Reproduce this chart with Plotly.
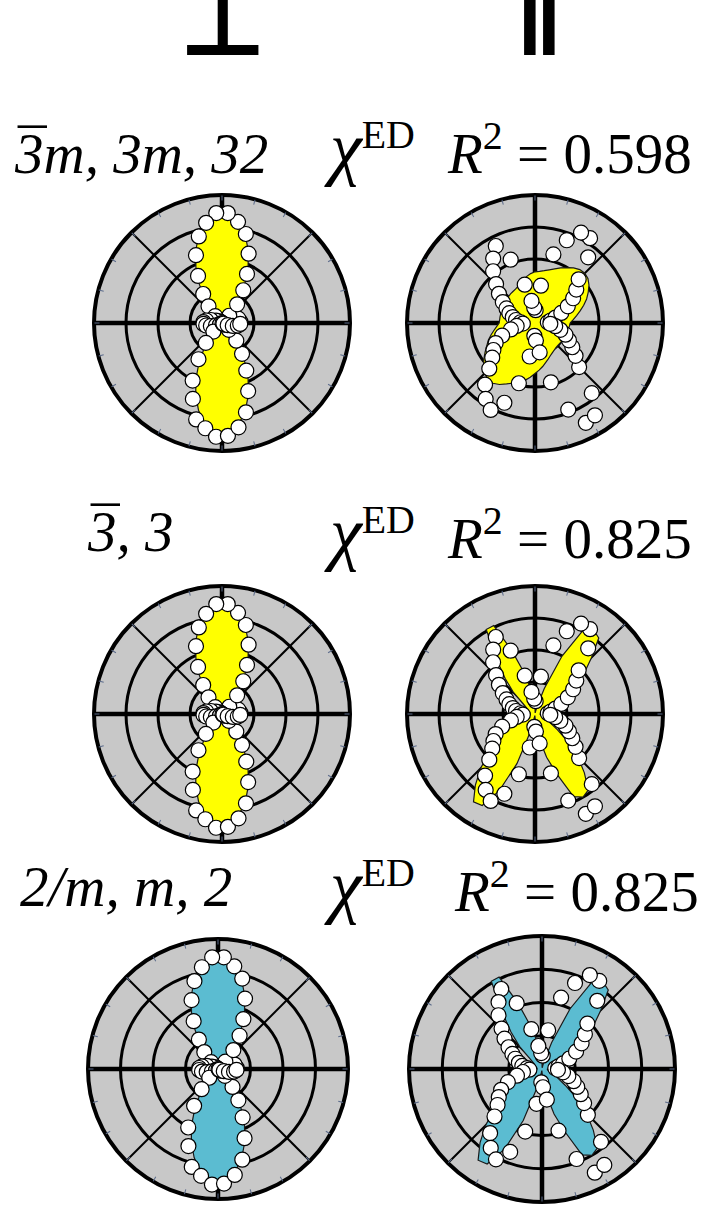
import plotly.graph_objects as go

W, H = 713, 1210
R_MAX = 4

# Measurement angles (deg) and fit-curve sampling angles (deg)
DATA_ANGLES = list(range(3, 360, 6))
FIT_ANGLES = list(range(0, 360, 5))

# Perpendicular-polarisation SHG intensity (same measurement in every row)
perp_data = [
    0.58, 0.50, 0.53, 0.20, 0.07, 0.02, 0.10, 0.32, 0.75, 1.22, 1.72, 2.32, 2.88, 3.20, 3.44,
    3.44, 3.17, 2.80, 2.27, 1.65, 1.08, 0.67, 0.30, 0.08, 0.02, 0.06, 0.20, 0.36, 0.50, 0.58,
    0.58, 0.50, 0.36, 0.20, 0.06, 0.02, 0.08, 0.38, 0.80, 1.35, 2.02, 2.54, 3.12, 3.33, 3.56,
    3.53, 3.30, 2.89, 2.28, 1.67, 1.15, 0.71, 0.30, 0.08, 0.02, 0.05, 0.19, 0.35, 0.50, 0.57,
]

# Parallel-polarisation SHG intensity (same measurement in every row)
par_data = [
    0.40, 0.50, 0.66, 0.88, 1.15, 1.42, 1.66, 1.93, 2.64, 3.16, 3.17, 2.77, 2.22, 1.18, 0.40,
    0.48, 0.70, 1.24, 2.12, 2.70, 2.40, 2.08, 1.72, 1.45, 1.20, 1.00, 0.86, 0.72, 0.60, 0.45,
    0.38, 0.58, 0.78, 1.10, 1.38, 1.55, 1.72, 2.02, 2.48, 2.83, 3.05, 2.67, 1.95, 1.06, 0.40,
    0.55, 0.93, 1.92, 2.90, 3.50, 3.44, 2.82, 1.95, 1.63, 1.39, 1.19, 1.02, 0.82, 0.64, 0.48,
]

# chi^ED model fits
perp_fit = [
    0.59, 0.56, 0.48, 0.35, 0.22, 0.09, 0.02, 0.01, 0.10, 0.29, 0.59, 0.98, 1.44, 1.93, 2.40, 2.83, 3.16, 3.38,
    3.45, 3.38, 3.16, 2.83, 2.40, 1.93, 1.44, 0.98, 0.59, 0.29, 0.10, 0.01, 0.02, 0.09, 0.22, 0.35, 0.48, 0.56,
    0.59, 0.56, 0.48, 0.35, 0.22, 0.09, 0.02, 0.01, 0.10, 0.29, 0.59, 0.98, 1.44, 1.93, 2.40, 2.83, 3.16, 3.38,
    3.45, 3.38, 3.16, 2.83, 2.40, 1.93, 1.44, 0.98, 0.59, 0.29, 0.10, 0.01, 0.02, 0.09, 0.22, 0.35, 0.48, 0.56,
]

par_fit_3m = [
    1.10, 1.20, 1.32, 1.46, 1.62, 1.78, 1.92, 2.06, 2.16, 2.20, 2.18, 2.10, 2.00, 1.90, 1.80, 1.72, 1.66, 1.62,
    1.60, 1.55, 1.48, 1.40, 1.32, 1.26, 1.22, 1.20, 1.19, 1.17, 1.15, 1.14, 1.13, 1.12, 1.11, 1.11, 1.11, 1.11,
    1.12, 1.20, 1.30, 1.42, 1.55, 1.66, 1.80, 1.95, 2.10, 2.22, 2.30, 2.30, 2.22, 2.10, 2.00, 1.93, 1.82, 1.70,
    1.58, 1.48, 1.38, 1.28, 1.20, 1.13, 1.08, 1.04, 1.01, 1.00, 1.00, 1.01, 1.02, 1.03, 1.04, 1.05, 1.06, 1.08,
]

par_fit_3 = [
    0.15, 0.25, 0.40, 0.58, 0.76, 1.02, 1.35, 1.62, 2.02, 2.50, 3.10, 3.20, 3.05, 2.00, 0.85, 0.25, 0.05, 0.05,
    0.20, 0.45, 0.85, 1.35, 2.10, 3.05, 3.05, 2.10, 1.45, 0.95, 0.45, 0.30, 0.25, 0.22, 0.20, 0.18, 0.16, 0.15,
    0.15, 0.22, 0.32, 0.45, 0.60, 0.75, 1.12, 1.50, 1.88, 2.40, 2.90, 3.35, 3.30, 2.65, 1.65, 0.60, 0.12, 0.05,
    0.10, 0.35, 0.80, 1.40, 2.00, 2.85, 3.00, 2.90, 2.40, 1.90, 1.35, 0.85, 0.55, 0.40, 0.30, 0.22, 0.18, 0.16,
]

# Row descriptions: point-group label, R^2 of the parallel fit, fill colour, fits
group_labels = ["3m, 3m, 32", "3, 3", "2/m, m, 2"]
has_bar = [True, True, False]          # first symbol carries an overbar (roto-inversion)
r2_values = ["0.598", "0.825", "0.825"]
fill_colors = ["#ffff00", "#ffff00", "#5bbcd1"]
par_fits = [par_fit_3m, par_fit_3, par_fit_3]

# Panel centres and radii in pixels: (cx, cy, radius) for [perp, par]
panels = [
    [(222, 323, 128), (535, 323, 128)],
    [(222, 714, 128), (535, 714, 128)],
    [(218, 1069, 130), (542, 1069, 133)],
]
label_pos = [  # (x of group label, baseline of group label, x of chi, x of R^2, baseline of right texts)
    (12, 175, 322, 445, 175),
    (85, 553, 322, 445, 560),
    (18, 908, 322, 452, 913),
]

GRID_BG = "#c8c8c8"
SERIF = "Liberation Serif"

fig = go.Figure()
layout_polars = {}
n_sub = 0


def domain(cx, cy, rad):
    return dict(x=[(cx - rad) / W, (cx + rad) / W], y=[1 - (cy + rad) / H, 1 - (cy - rad) / H])


for row in range(3):
    for col in range(2):
        cx, cy, rad = panels[row][col]
        if col == 0:
            fit, data = perp_fit, perp_data
        else:
            fit, data = par_fits[row], par_data

        n_sub += 1
        main_id = "polar" if n_sub == 1 else f"polar{n_sub}"
        # main axes: grey disc, rings at 1,2,3, diagonal spokes, black rim
        layout_polars[main_id] = dict(
            domain=domain(cx, cy, rad),
            bgcolor=GRID_BG,
            radialaxis=dict(range=[0, R_MAX], tickvals=[1, 2, 3], showticklabels=False, ticks="",
                            showline=False, gridcolor="black", gridwidth=2.6),
            angularaxis=dict(tickvals=[45, 135, 225, 315], showticklabels=False, ticks="",
                             gridcolor="black", gridwidth=2.2, showline=True, linecolor="black",
                             linewidth=4, rotation=0, direction="counterclockwise"),
        )
        # thick horizontal / vertical axes through the origin
        fig.add_trace(go.Scatterpolar(
            r=[R_MAX, 0, R_MAX, None, R_MAX, 0, R_MAX],
            theta=[0, 0, 180, None, 90, 90, 270],
            mode="lines", line=dict(color="black", width=4.5),
            subplot=main_id, showlegend=False, hoverinfo="skip"))
        # model fit
        fig.add_trace(go.Scatterpolar(
            r=fit + fit[:1], theta=FIT_ANGLES + [360],
            mode="lines", fill="toself", fillcolor=fill_colors[row],
            line=dict(color="#1a1a1a", width=1.2),
            subplot=main_id, showlegend=False, hoverinfo="skip"))
        # measured points
        fig.add_trace(go.Scatterpolar(
            r=data, theta=DATA_ANGLES, mode="markers",
            marker=dict(size=15, color="white", line=dict(color="black", width=1.2)),
            subplot=main_id, showlegend=False))

        # overlay carrying the small rim ticks every 15 degrees
        n_sub += 1
        tick_id = f"polar{n_sub}"
        layout_polars[tick_id] = dict(
            domain=domain(cx, cy, rad),
            bgcolor="rgba(0,0,0,0)",
            radialaxis=dict(range=[0, R_MAX], visible=False),
            angularaxis=dict(tickvals=list(range(0, 360, 15)), showticklabels=False, ticks="inside",
                             ticklen=5, tickwidth=1, tickcolor="#5a6a8a", showgrid=False,
                             showline=False, rotation=0, direction="counterclockwise"),
        )
        fig.add_trace(go.Scatterpolar(r=[], theta=[], subplot=tick_id, showlegend=False,
                                      hoverinfo="skip"))

annotations = []


def ann(text, x_px, y_px, size, xanchor="left", yanchor="bottom", family=SERIF):
    annotations.append(dict(
        text=text, x=x_px / W, y=1 - y_px / H, xref="paper", yref="paper",
        xanchor=xanchor, yanchor=yanchor, showarrow=False,
        font=dict(family=family, size=size, color="black")))


# column headers
ann("<b>\u22a5</b>", 223, 80, 96, xanchor="center", family="DejaVu Sans")
ann("<b>\u2225</b>", 538, 60, 100, xanchor="center", family="DejaVu Sans")

for row in range(3):
    gx, gbase, chix, r2x, rbase = label_pos[row]
    ann(f"<i>{group_labels[row]}</i>", gx, gbase + 12, 57)
    if has_bar[row]:
        # overbar above the leading "3"
        ann("\u00af", gx + 20, gbase + 8, 57, xanchor="center")
    ann("<span style='font-size:72px'><i>\u03c7</i></span><sup>ED</sup>", chix, rbase + 15, 57)
    ann(f"<i>R</i><sup>2</sup> = {r2_values[row]}", r2x, rbase + 12, 57)

fig.update_layout(
    width=W, height=H,
    margin=dict(l=0, r=0, t=0, b=0),
    paper_bgcolor="white", plot_bgcolor="white",
    showlegend=False,
    annotations=annotations,
    **layout_polars,
)

fig.write_html("out.html")
